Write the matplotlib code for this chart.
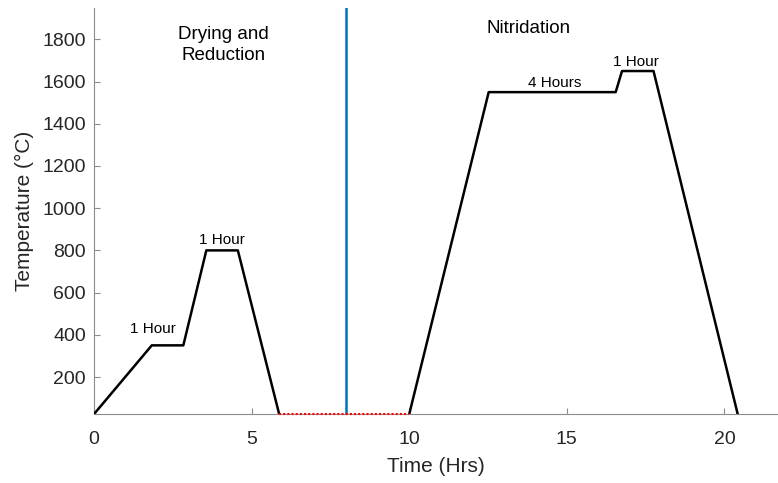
import numpy as np
import matplotlib.pyplot as plt

plt.rcParams["font.family"] = ["Liberation Sans", "DejaVu Sans"]

# Segmento di essiccazione e riduzione
t_dry = [0, 1.83, 2.83, 3.56, 4.56, 5.87]
temp_dry = [25, 350, 350, 800, 800, 25]

# Intervallo a temperatura ambiente
t_gap = [5.87, 10.0]
temp_gap = [25, 25]

# Segmento di nitrurazione
t_nit = [10.0, 12.52, 16.55, 16.75, 17.75, 20.42]
temp_nit = [25, 1550, 1550, 1650, 1650, 25]

divider_t = 8.0

fig = plt.figure(figsize=(7.78, 4.83), dpi=100)
ax = fig.add_axes([0.121, 0.143, 0.879, 0.841])

ax.plot(t_dry, temp_dry, color="black", linewidth=1.8, zorder=4)
ax.plot(t_nit, temp_nit, color="black", linewidth=1.8, zorder=4)
ax.plot(t_gap, temp_gap, color="red", linestyle=(0, (1, 1)), linewidth=1.5,
        zorder=5, clip_on=False)
ax.axvline(divider_t, color="#0072BD", linewidth=1.8, zorder=4)

ax.text(1.85, 395, "1 Hour", ha="center", va="bottom", fontsize=11)
ax.text(4.05, 815, "1 Hour", ha="center", va="bottom", fontsize=11)
ax.text(14.6, 1560, "4 Hours", ha="center", va="bottom", fontsize=11)
ax.text(17.2, 1660, "1 Hour", ha="center", va="bottom", fontsize=11)
ax.text(4.1, 1685, "Drying and\nReduction", ha="center", va="bottom",
        fontsize=13.5, linespacing=1.3)
ax.text(13.8, 1810, "Nitridation", ha="center", va="bottom", fontsize=13.5)

ax.set_xlim(0, 21.7)
ax.set_ylim(25, 1950)
ax.set_xticks([0, 5, 10, 15, 20])
ax.set_yticks(np.arange(200, 1801, 200))
ax.set_xlabel("Time (Hrs)", fontsize=15, color="#262626", labelpad=7)
ax.set_ylabel("Temperature (°C)", fontsize=15, color="#262626", labelpad=6)

for side in ["top", "right"]:
    ax.spines[side].set_visible(False)
for side in ["left", "bottom"]:
    ax.spines[side].set_color("#8c8c8c")
ax.tick_params(direction="in", length=4, colors="#8c8c8c",
               labelcolor="#262626", labelsize=14)
ax.tick_params(axis="x", pad=12)
ax.tick_params(axis="y", pad=6)

fig.savefig("out.png", dpi=100)
plt.close(fig)
